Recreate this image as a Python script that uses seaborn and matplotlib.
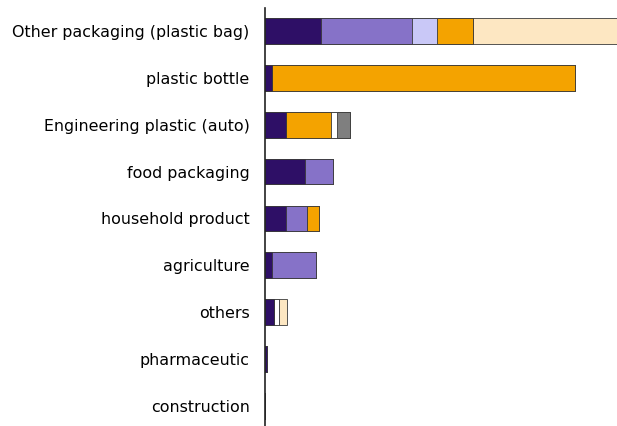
import matplotlib
matplotlib.use("Agg")
import matplotlib.pyplot as plt
import seaborn as sns
import numpy as np
import pandas as pd

categories = ["Other packaging (plastic bag)", "plastic bottle", "Engineering plastic (auto)",
              "food packaging", "household product", "agriculture", "others",
              "pharmaceutic", "construction"]

# stacked segments (left to right)
seg_navy     = [15.9, 2.0, 6.0, 11.4, 6.0, 2.0, 2.6, 0.6, 0.0]
seg_purple   = [25.9, 0.0, 0.0, 8.0, 6.0, 12.5, 0.0, 0.0, 0.0]
seg_lavender = [7.1, 0.0, 0.0, 0.0, 0.0, 0.0, 0.0, 0.0, 0.0]
seg_orange   = [10.2, 86.1, 12.8, 0.0, 3.4, 0.0, 0.0, 0.0, 0.0]
seg_white    = [0.0, 0.0, 1.7, 0.0, 0.0, 0.0, 1.4, 0.0, 0.0]
seg_gray     = [0.0, 0.0, 3.7, 0.0, 0.0, 0.0, 0.0, 0.0, 0.0]
seg_peach    = [45.0, 0.0, 0.0, 0.0, 0.0, 0.0, 2.3, 0.0, 0.0]

series = [seg_navy, seg_purple, seg_lavender, seg_orange, seg_white, seg_gray, seg_peach]
colors = ["#2e0f66", "#8672c8", "#c9c8f7", "#f4a300", "#ffffff", "#7f7f7f", "#fde7c2"]

sns.set_theme(style="white")
plt.rcParams['font.family'] = ['DejaVu Sans']

fig = plt.figure(figsize=(6.17, 4.26), dpi=100)
ax = fig.add_axes([265/617, 0.0, 1 - 265/617, (426 - 8) / 426])

cum = np.cumsum(np.array(series), axis=0)
for k in range(len(series) - 1, -1, -1):
    df = pd.DataFrame({"cat": categories, "val": cum[k]})
    sns.barplot(data=df, y="cat", x="val", order=categories, orient="h",
                color=colors[k], width=0.55, edgecolor="#3a3a3a", linewidth=0.6,
                saturation=1, ax=ax)

ax.set_xlim(0, 100)
ax.set_ylim(8.43, -0.49)
ax.set_xlabel("")
ax.set_ylabel("")
ax.set_xticks([])
for s in ["top", "right", "bottom"]:
    ax.spines[s].set_visible(False)
ax.spines["left"].set_color("#222222")
ax.spines["left"].set_linewidth(1.2)
ax.tick_params(axis="y", length=0, pad=11, labelsize=11.4, labelcolor="#000000")

fig.savefig("out.png", dpi=100)
